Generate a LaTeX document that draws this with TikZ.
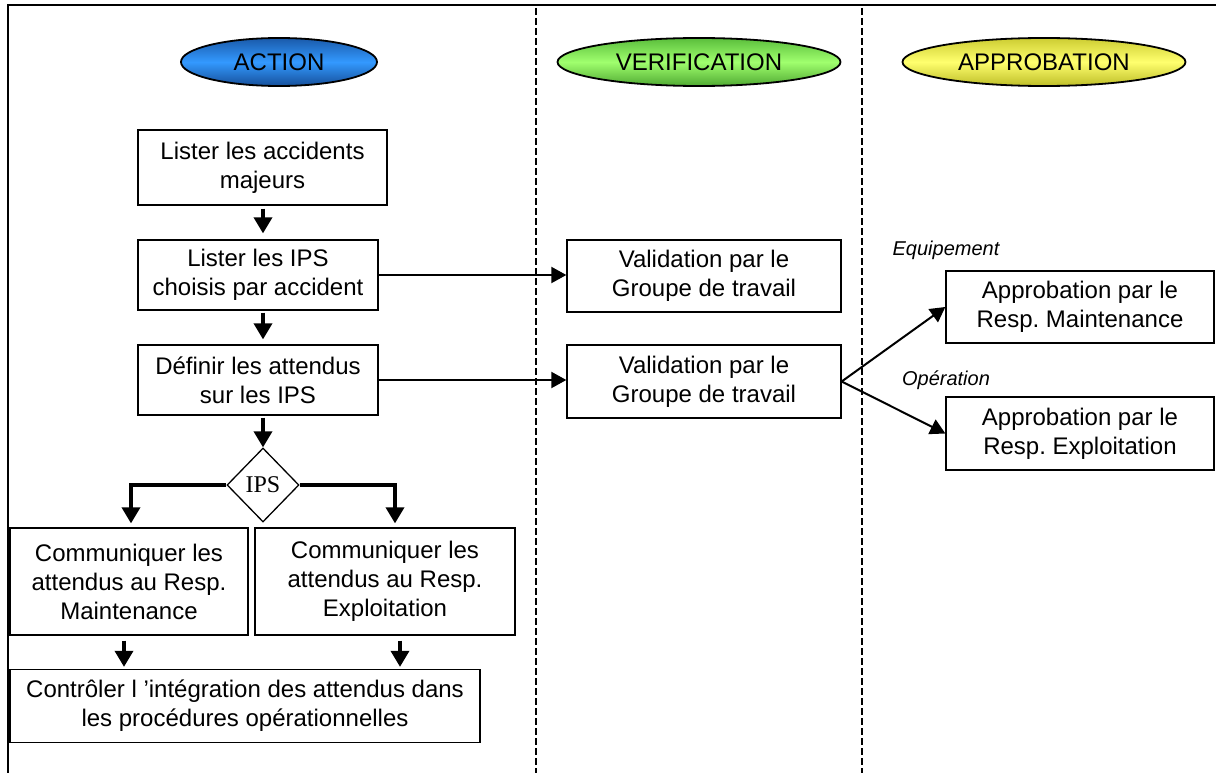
\documentclass[tikz,border=0pt]{standalone}
\usepackage{fontspec}
\setmainfont{Liberation Sans}
\newfontfamily\serifips{Liberation Serif}
\usetikzlibrary{arrows.meta,shapes.geometric,calc}
\begin{document}
\frenchspacing
\begin{tikzpicture}[x=1pt,y=-1pt,
  font=\fontsize{24}{29}\selectfont,
  stepbox/.style={draw, line width=1.3pt, rectangle, align=center, inner sep=2pt},
  phase/.style={ellipse, draw, line width=1.8pt, inner sep=0pt,
    minimum height=48pt},
  varrow/.style={line width=3.5pt, -{Triangle[length=16pt,width=18pt]}},
  harrow/.style={line width=2pt, -{Triangle[length=15pt,width=16pt]}},
  lanesep/.style={line width=1.3pt, dash pattern=on 7pt off 3pt},
  tag/.style={font=\fontsize{20}{23}\selectfont\itshape}
]
\useasboundingbox (0,0) rectangle (1216,773);

% outer frame (top and left edges)
\draw[line width=1.5pt] (8,773) -- (8,5) -- (1216,5);

% swim-lane separators
\draw[lanesep] (536,8) -- (536,773);
\draw[lanesep] (862,8) -- (862,773);

% lane headers
\node[phase, minimum width=196pt, top color={rgb,255:red,26;green,90;blue,170},
  bottom color={rgb,255:red,22;green,80;blue,155},
  middle color={rgb,255:red,51;green,153;blue,255}] (hAct) at (279,62) {ACTION};
\node[phase, minimum width=283pt, top color={rgb,255:red,90;green,190;blue,60},
  bottom color={rgb,255:red,80;green,170;blue,50},
  middle color={rgb,255:red,160;green,255;blue,110}] (hVer) at (699,62) {VERIFICATION};
\node[phase, minimum width=283pt, top color={rgb,255:red,205;green,205;blue,50},
  bottom color={rgb,255:red,190;green,190;blue,40},
  middle color={rgb,255:red,255;green,255;blue,110}] (hApp) at (1044,62) {APPROBATION};

% ACTION lane
\node[stepbox, minimum width=249pt, minimum height=75pt] (b1) at (262.5,167.5)
  {Lister les accidents\\majeurs};
\node[stepbox, minimum width=240pt, minimum height=70pt] (b2) at (258,275)
  {Lister les IPS\\choisis par accident};
\node[stepbox, minimum width=240pt, minimum height=70pt] (b3) at (258,380)
  {Définir les attendus\\sur les IPS};
\node[diamond, draw, line width=1.3pt, inner sep=0pt, minimum width=72pt,
  minimum height=74pt, font=\serifips\fontsize{24}{27}\selectfont] (d) at (263,485) {IPS};
\node[stepbox, minimum width=238pt, minimum height=107pt] (b4) at (129,581.5)
  {Communiquer les\\attendus au Resp.\\Maintenance};
\node[stepbox, minimum width=260pt, minimum height=107pt] (b5) at (385,581.5)
  {Communiquer les\\attendus au Resp.\\Exploitation};
\node[stepbox, minimum width=470pt, minimum height=73pt] (b6) at (245,706)
  {Contrôler l 'intégration des attendus dans\\les procédures opérationnelles};

% VERIFICATION lane
\node[stepbox, minimum width=274pt, minimum height=72pt] (v1) at (704,276)
  {Validation par le\\Groupe de travail};
\node[stepbox, minimum width=274pt, minimum height=73pt] (v2) at (704,381.5)
  {Validation par le\\Groupe de travail};

% APPROBATION lane
\node[stepbox, minimum width=268pt, minimum height=72pt] (a1) at (1080,307)
  {Approbation par le\\Resp. Maintenance};
\node[stepbox, minimum width=268pt, minimum height=73pt] (a2) at (1080,433.5)
  {Approbation par le\\Resp. Exploitation};
\node[tag] (tEq) at (946,250) {Equipement};
\node[tag] (tOp) at (946,380) {Opération};

% arrow anchors on the lower boxes
\coordinate (m4) at ([xshift=-5pt]b4.south);
\coordinate (m5) at ([xshift=15pt]b5.south);
\coordinate (n4) at ([xshift=2pt]b4.north);
\coordinate (n5) at ([xshift=10pt]b5.north);

% flow inside the ACTION lane
\draw[varrow, shorten <=3pt, shorten >=6pt] (b1.south -| d) -- (b2.north -| d);
\draw[varrow, shorten <=2pt, shorten >=5pt] (b2.south -| d) -- (b3.north -| d);
\draw[varrow, shorten <=2pt] (b3.south -| d) -- (d.north);
\draw[varrow, shorten >=4pt] (d.west) -| (n4);
\draw[varrow, shorten >=4pt] (d.east) -| (n5);
\draw[varrow, shorten <=5pt, shorten >=2pt] (m4) -- (b6.north -| m4);
\draw[varrow, shorten <=5pt, shorten >=2pt] (m5) -- (b6.north -| m5);

% hand-over to verification
\draw[harrow] (b2.east) -- (b2.east -| v1.west);
\draw[harrow] (b3.east) -- (b3.east -| v2.west);

% hand-over to approval
\draw[harrow] (v2.east) -- (a1.west);
\draw[harrow] (v2.east) -- (a2.west);
\end{tikzpicture}
\end{document}
